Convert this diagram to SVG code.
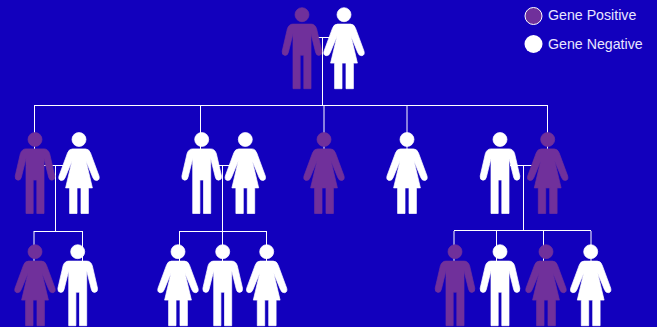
<svg xmlns="http://www.w3.org/2000/svg" width="657" height="327" viewBox="0 0 657 327">
<style>
.bg{fill:#1200bd}
.c{fill:none;stroke:#fff;stroke-width:1}
.pos{fill:#70309b;stroke:#70309b}
.neg{fill:#fff;stroke:#fff}
.fig{stroke-width:.7;stroke-linejoin:round}
text{font-family:"Liberation Sans",Arial,sans-serif;font-size:14.2px;fill:#e8e6ff}
</style>
<defs>
<g id="man">
<circle cx="0" cy="0" r="7"/>
<path d="M-9,9.4H9Q13,9.400 14.600,14L19.800,36.500Q20.300,40.500 17,40.700Q14.300,40.800 13.600,37.500L9,19V26V74H1.800V40.500H-1.800V74H-9V26V19L-13.600,37.500Q-14.300,40.800 -17,40.700Q-20.300,40.500 -19.800,36.500L-14.600,14Q-13,9.400 -9,9.400Z"/>
</g>
<g id="woman">
<circle cx="0" cy="0" r="7"/>
<path d="M-6.500,9.400H6.500Q10,9.400 11.500,13.500L20,36.500Q21,40.500 17.800,41Q15,41.300 13.800,38L7,21.500L13.400,48.400H9.400V74H2V48.400H-2V74H-9.400V48.400H-13.400L-7,21.500L-13.800,38Q-15,41.300 -17.800,41Q-21,40.500 -20,36.500L-11.500,13.500Q-10,9.400 -6.500,9.400Z"/>
</g>
</defs>
<rect class="bg" width="657" height="327"/>
<g id="connectors" class="c">
<path d="M316,37.500H330M322.500,37.500V105.500"/>
<path d="M34,105.500H548M34.500,105V150M200.500,105V150M324,105V150M407,105V150M547.500,105V150"/>
<path d="M44,165.500H70M55.500,165.500V231.500M34,231.500H82.500M34,231V262M82.500,231V262"/>
<path d="M215,165.500H235M222.500,165.500V231.500M179.500,231.500H266.500M179.500,231V262M222.500,231V262M266.500,231V262"/>
<path d="M510,165.500H535M523.500,165.500V231M454,230.500H591M454,231V262M496.500,231V262M543.500,231V262M591,231V262"/>
</g>
<g id="p1" class="fig pos"><use href="#man" x="302" y="14.700"/></g>
<g id="p2" class="fig neg"><use href="#woman" x="344" y="14.700"/></g>
<g id="p3" class="fig pos"><use href="#man" x="35" y="139.500"/></g>
<g id="p4" class="fig neg"><use href="#woman" x="79" y="139.500"/></g>
<g id="p5" class="fig neg"><use href="#man" x="201.700" y="139.500"/></g>
<g id="p6" class="fig neg"><use href="#woman" x="245.300" y="139.500"/></g>
<g id="p7" class="fig pos"><use href="#woman" x="324" y="139.500"/></g>
<g id="p8" class="fig neg"><use href="#woman" x="407" y="139.500"/></g>
<g id="p9" class="fig neg"><use href="#man" x="500" y="139.500"/></g>
<g id="p10" class="fig pos"><use href="#woman" x="547.700" y="139.500"/></g>
<g id="p11" class="fig pos"><use href="#woman" x="35" y="251.700"/></g>
<g id="p12" class="fig neg"><use href="#man" x="77.700" y="251.700"/></g>
<g id="p13" class="fig neg"><use href="#woman" x="178" y="251.700"/></g>
<g id="p14" class="fig neg"><use href="#man" x="222.700" y="251.700"/></g>
<g id="p15" class="fig neg"><use href="#woman" x="266.700" y="251.700"/></g>
<g id="p16" class="fig pos"><use href="#man" x="455" y="251.700"/></g>
<g id="p17" class="fig neg"><use href="#man" x="500" y="251.700"/></g>
<g id="p18" class="fig pos"><use href="#woman" x="546" y="251.700"/></g>
<g id="p19" class="fig neg"><use href="#woman" x="590.700" y="251.700"/></g>
<g id="legend-positive"><circle cx="533.500" cy="16" r="8.500" fill="#70309b" stroke="#fff" stroke-width="1"/><text x="548" y="20">Gene Positive</text></g>
<g id="legend-negative"><circle cx="533.500" cy="44" r="9" fill="#fff"/><text x="548" y="49">Gene Negative</text></g>
</svg>
